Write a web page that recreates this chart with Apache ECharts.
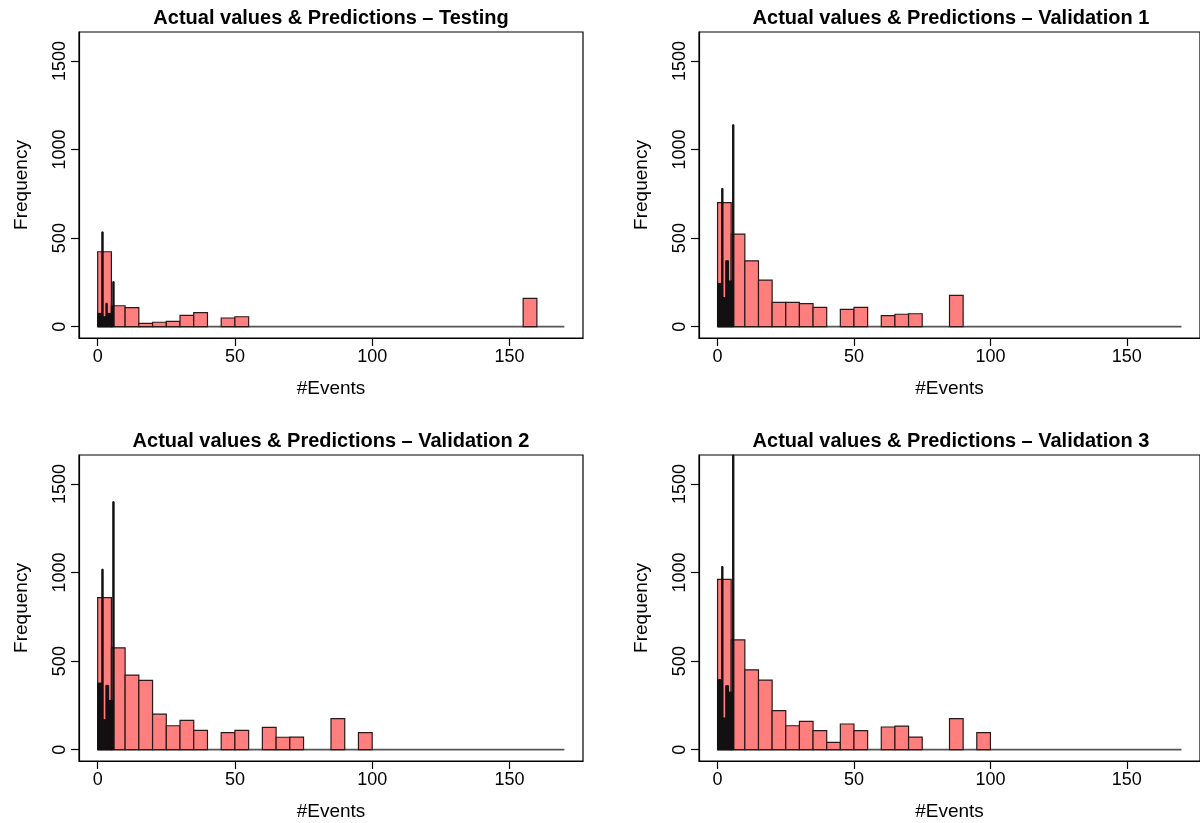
<!DOCTYPE html>
<html>
<head>
<meta charset="utf-8">
<script src="https://cdn.jsdelivr.net/npm/echarts@6/dist/echarts.min.js"></script>
<style>
html,body{margin:0;padding:0;background:#fff;}
#chart{width:1200px;height:823px;}
</style>
</head>
<body>
<div id="chart"></div>
<script>
// ---------- DATA ----------
const panelTitles = [
  'Actual values & Predictions \u2013 Testing',
  'Actual values & Predictions \u2013 Validation 1',
  'Actual values & Predictions \u2013 Validation 2',
  'Actual values & Predictions \u2013 Validation 3'
];
const xAxisTitle = '#Events';
const yAxisTitle = 'Frequency';
const xTickValues = [0, 50, 100, 150];
const yTickValues = [0, 500, 1000, 1500];
const xDataRange = [0, 170];
const yDataRange = [0, 1600];

// Actual values: histogram, bin width 5, bins start at 0
const actualBinWidth = 5;
const testingActual = [423,118,107,19,25,30,64,79,0,49,56,0,0,0,0,0,0,0,0,0,0,0,0,0,0,0,0,0,0,0,0,160];
const val1Actual    = [701,523,372,263,137,137,130,109,0,98,109,0,62,70,73,0,0,177];
const val2Actual    = [859,575,421,391,201,135,165,109,0,96,109,0,126,70,71,0,0,175,0,96];
const val3Actual    = [962,620,451,393,220,135,160,107,41,145,107,0,128,133,71,0,0,175,0,96];

// Predictions: histogram, bin width 0.5, bins start at 0
const predBinWidth = 0.5;
const testingPred = [75,75,75,535,56,56,132,75,75,75,113,254];
const val1Pred    = [244,244,244,780,164,164,372,372,258,258,258,1140];
const val2Pred    = [376,376,376,1019,169,169,363,363,278,278,278,1400];
const val3Pred    = [395,395,395,1034,179,179,361,361,325,325,325,1700];

const actualSets = [testingActual, val1Actual, val2Actual, val3Actual];
const predSets = [testingPred, val1Pred, val2Pred, val3Pred];

// ---------- LAYOUT ----------
const boxes = [
  {left: 79, top: 32}, {left: 699, top: 32},
  {left: 79, top: 455}, {left: 699, top: 455}
];
const boxW = 504, boxH = 306;
const FONT = '"Liberation Sans", Arial, Helvetica, sans-serif';

function toBins(counts, width) {
  return counts.map((c, i) => [i * width, (i + 1) * width, c]);
}
function padRange(r) {
  const p = (r[1] - r[0]) * 0.04;
  return [r[0] - p, r[1] + p];
}
const xr = padRange(xDataRange);
const yr = padRange(yDataRange);

function makeRender(fill, stroke, lw) {
  return function (params, api) {
    const x0 = api.value(0), x1 = api.value(1), h = api.value(2);
    if (!h) return null;
    const p0 = api.coord([x0, h]);
    const p1 = api.coord([x1, 0]);
    const cs = params.coordSys;
    const top = Math.max(p0[1], cs.y);
    return {
      type: 'rect',
      shape: {x: p0[0], y: top, width: p1[0] - p0[0], height: p1[1] - top},
      style: {fill: fill, stroke: stroke, lineWidth: lw}
    };
  };
}
const plainFmt = v => String(v);

const grids = [], xAxes = [], yAxes = [], series = [], titles = [];
boxes.forEach((b, i) => {
  grids.push({left: b.left, top: b.top, width: boxW, height: boxH, show: true,
    borderColor: '#000', borderWidth: 1.2, backgroundColor: 'transparent'});
  titles.push({text: panelTitles[i], left: b.left + boxW / 2 - 5, top: b.top - 29, textAlign: 'center',
    textStyle: {fontFamily: FONT, fontSize: 20, fontWeight: 'bold', color: '#000'}});
  xAxes.push({gridIndex: i, type: 'value', min: xr[0], max: xr[1], position: 'bottom',
    axisLine: {show: true, onZero: false, lineStyle: {color: '#000', width: 1.2}}, splitLine: {show: false},
    axisTick: {show: true, inside: false, length: 8, customValues: xTickValues, lineStyle: {color: '#000', width: 1.2}},
    axisLabel: {show: true, customValues: xTickValues, formatter: plainFmt, margin: 10, color: '#000', fontFamily: FONT, fontSize: 18},
    name: xAxisTitle, nameLocation: 'middle', nameGap: 41,
    nameTextStyle: {fontFamily: FONT, fontSize: 19, color: '#000'}});
  yAxes.push({gridIndex: i, type: 'value', min: yr[0], max: yr[1], position: 'left',
    axisLine: {show: true, onZero: false, lineStyle: {color: '#000', width: 1.2}}, splitLine: {show: false},
    axisTick: {show: true, inside: false, length: 8, customValues: yTickValues, lineStyle: {color: '#000', width: 1.2}},
    axisLabel: {show: true, customValues: yTickValues, formatter: plainFmt, rotate: 90, margin: 10, color: '#000', fontFamily: FONT, fontSize: 18},
    name: yAxisTitle, nameLocation: 'middle', nameGap: 48, nameRotate: 90,
    nameTextStyle: {fontFamily: FONT, fontSize: 19, color: '#000'}});
  series.push({type: 'line', xAxisIndex: i, yAxisIndex: i, silent: true,
    data: [[xDataRange[0], 0], [xDataRange[1], 0]], symbol: 'none',
    lineStyle: {color: '#555', width: 1.6}, z: 1});
  series.push({type: 'custom', xAxisIndex: i, yAxisIndex: i, silent: true,
    renderItem: makeRender('#FF7F7F', '#2a1a1a', 1.2),
    data: toBins(actualSets[i], actualBinWidth), z: 2});
  series.push({type: 'custom', xAxisIndex: i, yAxisIndex: i, silent: true,
    renderItem: makeRender('#220c17', '#111', 1),
    data: toBins(predSets[i], predBinWidth), z: 3});
});

const chart = echarts.init(document.getElementById('chart'), null, {renderer: 'canvas'});
chart.setOption({
  animation: false,
  backgroundColor: '#fff',
  title: titles,
  grid: grids,
  xAxis: xAxes,
  yAxis: yAxes,
  series: series
});
</script>
</body>
</html>
